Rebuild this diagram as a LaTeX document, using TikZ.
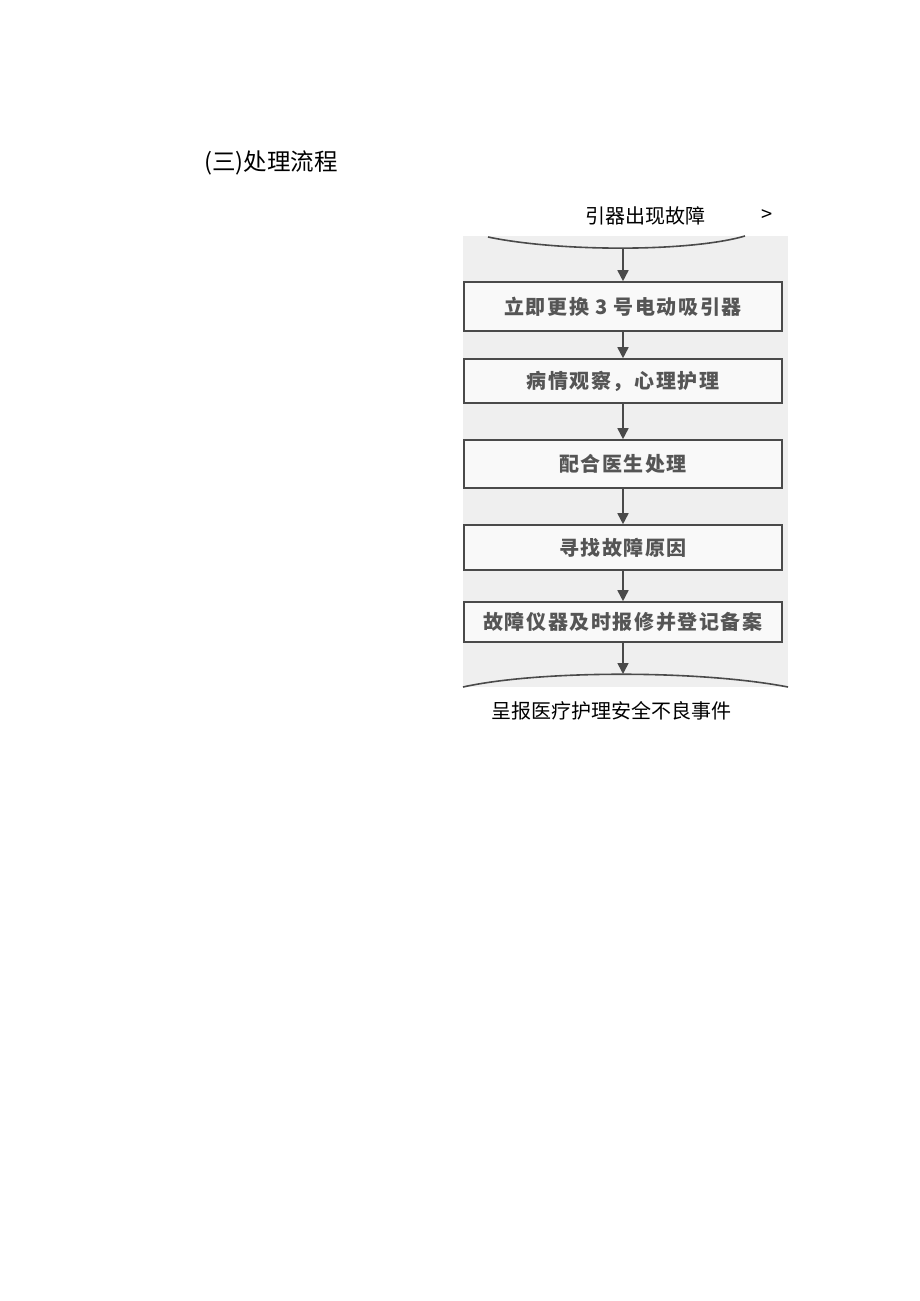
\documentclass[tikz,border=0pt]{standalone}
\usepackage{fontspec}
\setmainfont{Noto Sans CJK SC}
\newfontfamily\boxfont[LetterSpace=8]{Noto Sans CJK SC}
\usetikzlibrary{arrows.meta}
\definecolor{scanline}{HTML}{4A4A4A}
\definecolor{scantext}{HTML}{555555}
\definecolor{scanpaper}{HTML}{EFEFEF}
\begin{document}
\begin{tikzpicture}[x=1pt, y=-1pt,
  stepbox/.style={shape=rectangle, draw=scanline, line width=1.6pt, fill=white!60!scanpaper,
    minimum width=318pt, minimum height=#1, inner sep=0pt, text=scantext,
    font=\boxfont\bfseries\fontsize{20}{20}\selectfont},
  stepbox/.default=46pt,
  steparrow/.style={-{Triangle[length=11pt,width=11pt]}, line width=1.6pt, draw=scanline},
  pagetext/.style={inner sep=0pt, text=black, font=\fontsize{20}{20}\selectfont}]
\useasboundingbox[fill=white] (0,0) rectangle (920,1301);
\node[pagetext, anchor=west, font=\fontsize{23.5}{23.5}\selectfont] (title) at (204,163) {(三)处理流程};
% scanned chart
\fill[scanpaper] (463,236) rectangle (788,687);
\draw[scanline, line width=1.6pt] (488,237) .. controls (560,252) and (690,252) .. (745,236);
\draw[scanline, line width=1.6pt] (463,687) .. controls (540,670) and (700,670) .. (788,687);
\coordinate (fault) at (623,248);
\coordinate (report) at (623,674);
\node[pagetext] (top) at (645,216) {引器出现故障};
\node[pagetext] (gt) at (767,216) {>};
\node[stepbox=49pt] (1) at (623,306.5) {立即更换 3 号电动吸引器};
\node[stepbox=44pt] (2) at (623,381) {病情观察，心理护理};
\node[stepbox=48pt] (3) at (623,464) {配合医生处理};
\node[stepbox=45pt] (4) at (623,547.5) {寻找故障原因};
\node[stepbox=40pt] (5) at (623,622) {故障仪器及时报修并登记备案};
\node[pagetext] (bottom) at (611,711) {呈报医疗护理安全不良事件};
\path (fault) edge[steparrow] (1);
\path (1) edge[steparrow] (2);
\path (2) edge[steparrow] (3);
\path (3) edge[steparrow] (4);
\path (4) edge[steparrow] (5);
\path (5) edge[steparrow] (report);
\end{tikzpicture}
\end{document}
